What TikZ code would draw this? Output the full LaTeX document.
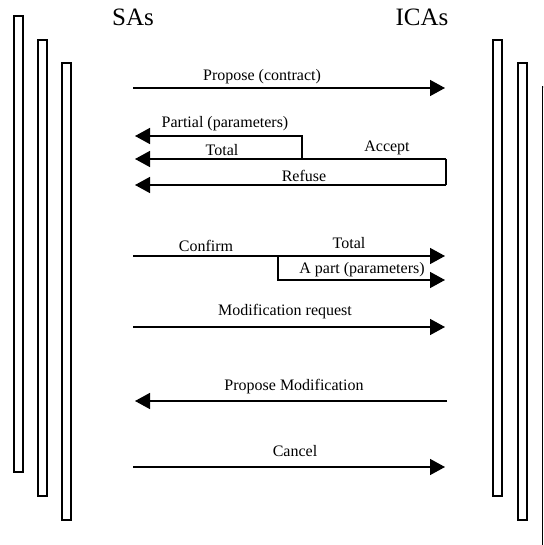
\documentclass[tikz,border=0pt]{standalone}
\usepackage{fontspec}
\setmainfont{Liberation Serif}
\usetikzlibrary{arrows.meta}
\tikzset{
  bar/.style={draw=black, line width=1.6pt, fill=white},
  msg/.style={line width=1.5pt, -{Triangle[length=15pt,width=16pt]}},
  seg/.style={line width=1.5pt},
  lbl/.style={font=\fontsize{16}{18}\selectfont, inner sep=0pt},
  title/.style={font=\fontsize{25}{28}\selectfont, inner sep=0pt, anchor=base},
}
\begin{document}
\begin{tikzpicture}[x=1pt,y=-1pt]
\clip (0,0) rectangle (543,545);
\fill[white] (0,0) rectangle (543,545);
% actor bars
\draw[bar] (14,16) rectangle (23,472);
\draw[bar] (38,40) rectangle (47,496);
\draw[bar] (62,63) rectangle (71,520);
\draw[bar] (493,40) rectangle (502,496);
\draw[bar] (518,63) rectangle (527,520);
\draw[bar] (542.5,87) rectangle (555,560);
% titles
\node[title] (sas) at (133,26) {SAs};
\node[title] (icas) at (422,26) {ICAs};
% coordinates
\coordinate (p1s) at (133,88);  \coordinate (p1e) at (445,88);
\coordinate (pa) at (302,136);  \coordinate (pae) at (135,136);
\coordinate (pb) at (302,159);
\coordinate (ts) at (446,159);  \coordinate (te) at (135,159);
\coordinate (rs) at (446,185);  \coordinate (re) at (135,185);
\coordinate (cs) at (133,256);  \coordinate (ce) at (445,256);
\coordinate (cb) at (278,256);  \coordinate (cc) at (278,280);
\coordinate (ape) at (445,280);
\coordinate (ms) at (133,327);  \coordinate (me) at (445,327);
\coordinate (pms) at (447,401); \coordinate (pme) at (135,401);
\coordinate (ks) at (133,467);  \coordinate (ke) at (445,467);
% messages
\draw[msg] (p1s) -- (p1e);
\draw[seg] (ts) -- (rs);
\draw[msg] (ts) -- (te);
\draw[msg] (pb) -- (pa) -- (pae);
\draw[msg] (rs) -- (re);
\draw[msg] (cs) -- (ce);
\draw[msg] (cb) -- (cc) -- (ape);
\draw[msg] (ms) -- (me);
\draw[msg] (pms) -- (pme);
\draw[msg] (ks) -- (ke);
% labels
\node[lbl] (l1) at (262,77) {Propose (contract)};
\node[lbl] (l2) at (225,124) {Partial (parameters)};
\node[lbl] (l3) at (222,150) {Total};
\node[lbl] (l4) at (387,148) {Accept};
\node[lbl] (l5) at (304,176) {Refuse};
\node[lbl] (l6) at (206,246) {Confirm};
\node[lbl] (l7) at (349,243) {Total};
\node[lbl] (l8) at (362,270) {A part (parameters)};
\node[lbl] (l9) at (285,312) {Modification request};
\node[lbl] (l10) at (294,387) {Propose Modification};
\node[lbl] (l11) at (295,451) {Cancel};
\end{tikzpicture}
\end{document}
